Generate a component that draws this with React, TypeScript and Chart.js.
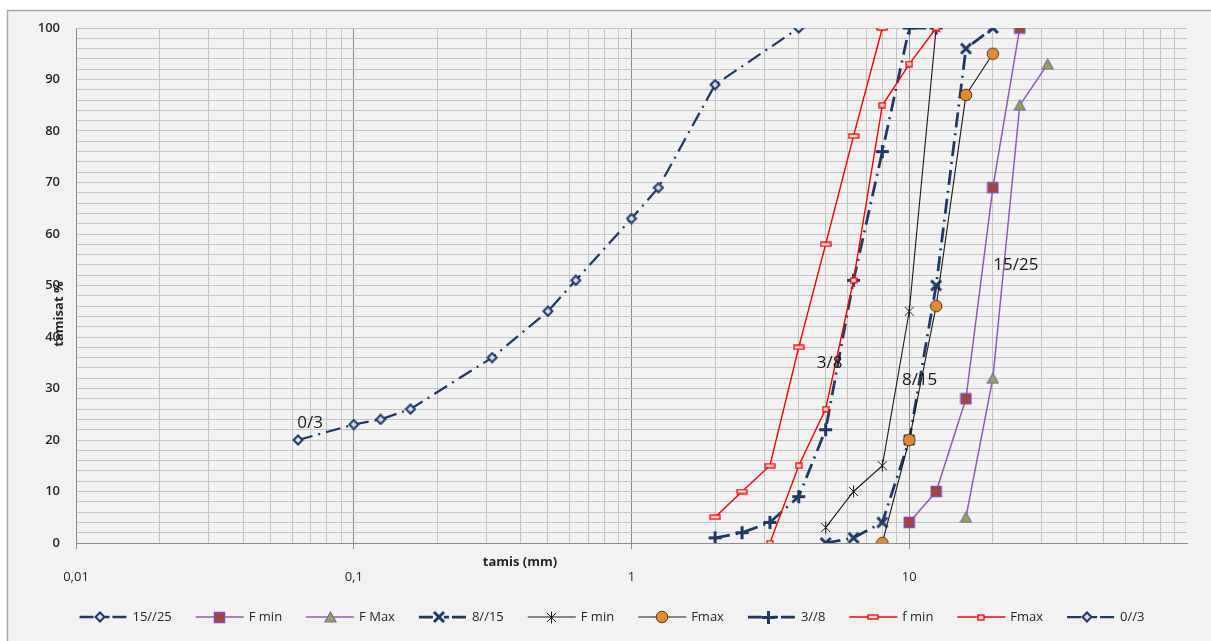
import React, { useEffect, useRef } from 'react';
import { Chart, registerables } from 'chart.js';

Chart.register(...registerables);

const NAVY = '#1f3864';
const PURPLE = '#8e5bbd';
const RED = '#ff0000';
const BLACK = '#1a1a1a';

// Passing percentages per sieve size (mm) for each aggregate fraction
// 0/3 sand
const SIEVE_03 = [0.063, 0.1, 0.125, 0.16, 0.315, 0.5, 0.63, 1, 1.25, 2, 4];
const PASS_03 = [20, 23, 24, 26, 36, 45, 51, 63, 69, 89, 100];

// 3/8 gravel and its spindle limits
const SIEVE_38 = [2, 2.5, 3.15, 4, 5, 6.3, 8, 10, 12.5];
const PASS_38 = [1, 2, 4, 9, 22, 51, 76, 100, 100];
const SIEVE_38_FMIN = [2, 2.5, 3.15, 4, 5, 6.3, 8];
const PASS_38_FMIN = [5, 10, 15, 38, 58, 79, 100];
const SIEVE_38_FMAX = [3.15, 4, 5, 6.3, 8, 10, 12.5];
const PASS_38_FMAX = [0, 15, 26, 51, 85, 93, 100];

// 8/15 gravel and its spindle limits
const SIEVE_815 = [5, 6.3, 8, 10, 12.5, 16, 20];
const PASS_815 = [0, 1, 4, 20, 50, 96, 100];
const SIEVE_815_FMIN = [5, 6.3, 8, 10, 12.5];
const PASS_815_FMIN = [3, 10, 15, 45, 100];
const SIEVE_815_FMAX = [8, 10, 12.5, 16, 20];
const PASS_815_FMAX = [0, 20, 46, 87, 95];

// 15/25 gravel (no measured curve) and its spindle limits
const SIEVE_1525: number[] = [];
const PASS_1525: number[] = [];
const SIEVE_1525_FMIN = [10, 12.5, 16, 20, 25];
const PASS_1525_FMIN = [4, 10, 28, 69, 100];
const SIEVE_1525_FMAX = [16, 20, 25, 31.5];
const PASS_1525_FMAX = [5, 32, 85, 93];

// Axis ticks
const X_DECADES = [0.01, 0.1, 1, 10];
const X_MULTIPLIERS = [1, 2, 3, 4, 5, 6, 7, 8, 9];
const X_LABEL_VALUES = [0.01, 0.1, 1, 10];
const X_LABEL_TEXT = ['0,01', '0,1', '1', '10'];
const X_TICKS: number[] = [];
X_DECADES.forEach((d) => X_MULTIPLIERS.forEach((m) => X_TICKS.push(+(d * m).toPrecision(6))));
X_TICKS.push(100);

// Curve name labels written on the plot
const CURVE_NAMES = ['0/3', '3/8', '8/15', '15/25'];
const CURVE_NAME_X = [0.0697, 5.17, 10.9, 24.2];
const CURVE_NAME_Y = [23.3, 35, 31.6, 54];

const zip = (xs: number[], ys: number[]) => xs.map((x, i) => ({ x, y: ys[i] }));
const near = (a: number, b: number) => Math.abs(a - b) < b * 1e-6;

function marker(w: number, h: number, draw: (c: CanvasRenderingContext2D) => void) {
  const c = document.createElement('canvas');
  c.width = w;
  c.height = h;
  draw(c.getContext('2d') as CanvasRenderingContext2D);
  return c;
}

function buildMarkers() {
  return {
    diamond: marker(12, 12, (c) => {
      c.beginPath();
      c.moveTo(6, 1.5); c.lineTo(10.5, 6); c.lineTo(6, 10.5); c.lineTo(1.5, 6); c.closePath();
      c.fillStyle = '#d9dde8'; c.fill();
      c.strokeStyle = NAVY; c.lineWidth = 2; c.stroke();
    }),
    plus: marker(15, 15, (c) => {
      c.strokeStyle = NAVY; c.lineWidth = 3;
      c.beginPath(); c.moveTo(7.5, 1); c.lineTo(7.5, 14); c.moveTo(1, 7.5); c.lineTo(14, 7.5); c.stroke();
    }),
    cross: marker(14, 14, (c) => {
      c.strokeStyle = NAVY; c.lineWidth = 3;
      c.beginPath(); c.moveTo(2, 2); c.lineTo(12, 12); c.moveTo(12, 2); c.lineTo(2, 12); c.stroke();
    }),
    square: marker(13, 13, (c) => {
      c.fillStyle = '#a5443f'; c.fillRect(1.5, 1.5, 10, 10);
      c.strokeStyle = '#7b4fb0'; c.lineWidth = 1.5; c.strokeRect(1.5, 1.5, 10, 10);
    }),
    triangle: marker(13, 12, (c) => {
      c.beginPath(); c.moveTo(6.5, 1); c.lineTo(12, 11); c.lineTo(1, 11); c.closePath();
      c.fillStyle = '#8fa84f'; c.fill();
      c.strokeStyle = '#8064a2'; c.lineWidth = 1.2; c.stroke();
    }),
    star: marker(13, 13, (c) => {
      c.strokeStyle = BLACK; c.lineWidth = 1;
      c.beginPath();
      c.moveTo(6.5, 0.5); c.lineTo(6.5, 12.5);
      c.moveTo(2, 2); c.lineTo(11, 11); c.moveTo(11, 2); c.lineTo(2, 11);
      c.stroke();
    }),
    circle: marker(14, 14, (c) => {
      c.beginPath(); c.arc(7, 7, 5.8, 0, Math.PI * 2);
      c.fillStyle = '#e08a36'; c.fill();
      c.strokeStyle = '#5b3a14'; c.lineWidth = 1; c.stroke();
    }),
    redWide: marker(12, 6, (c) => {
      c.fillStyle = '#f7d6cf'; c.fillRect(1, 1, 10, 4);
      c.strokeStyle = RED; c.lineWidth = 1.3; c.strokeRect(1, 1, 10, 4);
    }),
    redSmall: marker(8, 7, (c) => {
      c.fillStyle = '#f7d6cf'; c.fillRect(1, 1, 6, 5);
      c.strokeStyle = RED; c.lineWidth = 1.3; c.strokeRect(1, 1, 6, 5);
    }),
  };
}

const NAVY_DASH = [15, 6, 2, 6];

const framePlugin = {
  id: 'frame',
  beforeDraw(chart: any) {
    const { ctx, width, height } = chart;
    ctx.save();
    ctx.fillStyle = '#ffffff';
    ctx.fillRect(0, 0, width, height);
    ctx.fillStyle = '#f2f2f2';
    ctx.fillRect(7, 10, width - 7, height - 10);
    ctx.strokeStyle = '#a6a6a6';
    ctx.lineWidth = 1.5;
    ctx.beginPath();
    ctx.moveTo(7.5, height);
    ctx.lineTo(7.5, 10.5);
    ctx.lineTo(width, 10.5);
    ctx.stroke();
    ctx.restore();
  },
};

const textPlugin = {
  id: 'texts',
  afterDatasetsDraw(chart: any) {
    const { ctx, scales } = chart;
    ctx.save();
    ctx.fillStyle = '#1a1a1a';
    ctx.font = '17px "Open Sans"';
    ctx.textAlign = 'center';
    ctx.textBaseline = 'middle';
    CURVE_NAMES.forEach((t, i) => {
      ctx.fillText(t, scales.x.getPixelForValue(CURVE_NAME_X[i]), scales.y.getPixelForValue(CURVE_NAME_Y[i]));
    });
    // axis titles
    ctx.fillStyle = '#262626';
    ctx.font = 'bold 13px "Open Sans"';
    ctx.fillText('tamis (mm)', 520, 562);
    ctx.translate(59, 314);
    ctx.rotate(-Math.PI / 2);
    ctx.fillText('tamisat %', 0, 0);
    ctx.restore();
  },
};

const legendPlugin = {
  id: 'sampleLegend',
  afterDraw(chart: any) {
    const { ctx } = chart;
    const sets = chart.data.datasets;
    const sampleW = 48;
    const gapText = 5;
    const gapItem = 24;
    ctx.save();
    ctx.font = '13px "Open Sans"';
    const widths = sets.map((d: any) => sampleW + gapText + ctx.measureText(d.label).width);
    const total = widths.reduce((a: number, b: number) => a + b, 0) + gapItem * (sets.length - 1);
    let x = 612 - total / 2;
    const y = 617;
    sets.forEach((d: any, i: number) => {
      ctx.save();
      ctx.strokeStyle = d.borderColor;
      ctx.lineWidth = d.borderWidth;
      ctx.setLineDash(d.legendDash || []);
      ctx.beginPath();
      ctx.moveTo(x, y);
      ctx.lineTo(x + sampleW, y);
      ctx.stroke();
      ctx.setLineDash([]);
      const img = d.pointStyle as HTMLCanvasElement;
      const cx = d.legendDash ? x + sampleW * 0.42 : x + sampleW / 2;
      ctx.drawImage(img, Math.round(cx - img.width / 2), Math.round(y - img.height / 2));
      ctx.restore();
      ctx.fillStyle = '#262626';
      ctx.textAlign = 'left';
      ctx.textBaseline = 'middle';
      ctx.fillText(d.label, x + sampleW + gapText, y);
      x += widths[i] + gapItem;
    });
    ctx.restore();
  },
};

export default function App() {
  const ref = useRef<HTMLCanvasElement | null>(null);

  useEffect(() => {
    const m = buildMarkers();
    const navy = (label: string, xs: number[], ys: number[], style: HTMLCanvasElement, w: number, order: number) => ({
      label, data: zip(xs, ys), showLine: true, borderColor: NAVY, borderWidth: w,
      borderDash: NAVY_DASH, legendDash: [14, 5, 2, 4, 5, 3], pointStyle: style, pointRadius: 6, order,
    });
    const solid = (label: string, xs: number[], ys: number[], color: string, w: number, style: HTMLCanvasElement, order: number) => ({
      label, data: zip(xs, ys), showLine: true, borderColor: color, borderWidth: w,
      pointStyle: style, pointRadius: 6, order,
    });

    const chart = new Chart(ref.current as HTMLCanvasElement, {
      type: 'scatter',
      data: {
        datasets: [
          navy('15//25', SIEVE_1525, PASS_1525, m.diamond, 2.5, 10),
          solid('F min', SIEVE_1525_FMIN, PASS_1525_FMIN, PURPLE, 1.5, m.square, 9),
          solid('F Max', SIEVE_1525_FMAX, PASS_1525_FMAX, PURPLE, 1.5, m.triangle, 8),
          navy('8//15', SIEVE_815, PASS_815, m.cross, 2.75, 7),
          solid('F min', SIEVE_815_FMIN, PASS_815_FMIN, BLACK, 1.1, m.star, 6),
          solid('Fmax', SIEVE_815_FMAX, PASS_815_FMAX, BLACK, 1.1, m.circle, 5),
          navy('3//8', SIEVE_38, PASS_38, m.plus, 2.75, 4),
          solid('f min', SIEVE_38_FMIN, PASS_38_FMIN, RED, 1.4, m.redWide, 3),
          solid('Fmax', SIEVE_38_FMAX, PASS_38_FMAX, RED, 1.4, m.redSmall, 2),
          navy('0//3', SIEVE_03, PASS_03, m.diamond, 2.25, 1),
        ] as any,
      },
      options: {
        responsive: false,
        animation: false,
        layout: { padding: { top: 28, right: 24, left: 0, bottom: 0 } },
        plugins: { legend: { display: false }, tooltip: { enabled: false } },
        scales: {
          x: {
            type: 'logarithmic',
            min: 0.01,
            max: 100,
            afterBuildTicks: (s: any) => {
              s.ticks = X_TICKS.map((v) => ({ value: v }));
            },
            afterFit: (s: any) => {
              s.height = 98;
            },
            ticks: {
              autoSkip: false,
              maxRotation: 0,
              minRotation: 0,
              padding: 20,
              color: '#262626',
              font: { family: 'Open Sans', size: 13 },
              callback: (v: any) => {
                const i = X_LABEL_VALUES.findIndex((l) => near(Number(v), l));
                return i >= 0 ? X_LABEL_TEXT[i] : '';
              },
            },
            grid: {
              lineWidth: 1,
              tickLength: 6,
              color: (c: any) => {
                const v = c.tick ? c.tick.value : 0;
                if (near(v, 100)) return 'rgba(0,0,0,0)';
                return X_LABEL_VALUES.some((l) => near(v, l)) ? '#8c8c8c' : '#c4c4c4';
              },
              tickColor: (c: any) => {
                const v = c.tick ? c.tick.value : 0;
                return X_LABEL_VALUES.some((l) => near(v, l)) ? '#8c8c8c' : 'rgba(0,0,0,0)';
              },
            },
            border: { color: '#8c8c8c' },
          },
          y: {
            min: 0,
            max: 100,
            afterFit: (s: any) => {
              s.width = 76;
            },
            ticks: {
              stepSize: 2,
              autoSkip: false,
              padding: 16,
              color: '#262626',
              font: { family: 'Open Sans', size: 13, weight: '600' },
              callback: (v: any) => (Number(v) % 10 === 0 ? String(v) : ''),
            },
            grid: { color: '#c4c4c4', drawTicks: false, lineWidth: 1 },
            border: { color: '#8c8c8c' },
          },
        },
      } as any,
      plugins: [framePlugin, textPlugin, legendPlugin],
    });
    return () => chart.destroy();
  }, []);

  return (
    <div style={{ position: 'fixed', left: 0, top: 0, width: 1211, height: 641 }}>
      <canvas ref={ref} width={1211} height={641} />
    </div>
  );
}
